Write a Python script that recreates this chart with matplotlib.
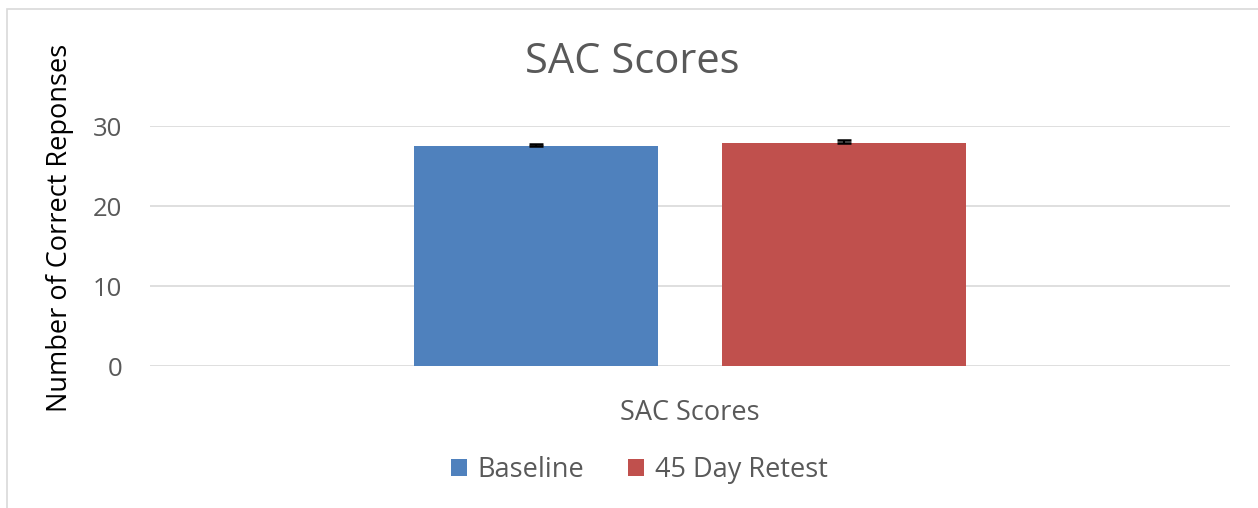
import matplotlib.pyplot as plt
import matplotlib.patches as mpatches
import numpy as np

# datos
categorias = ["SAC Scores"]
series = ["Baseline", "45 Day Retest"]
valores = [27.5, 27.9]
errores = [0.3, 0.3]
colores = ["#4f81bd", "#c0504d"]
yticks = [0, 10, 20, 30]

plt.rcParams['font.family'] = ['Open Sans', 'DejaVu Sans']
gris = "#595959"

fig = plt.figure(figsize=(12.58, 5.08), dpi=100)
# marco del gráfico
fig.patches.append(mpatches.Rectangle((7 / 1258, -0.1), 1.2, 1 - 9 / 508 + 0.1,
                                      transform=fig.transFigure, fill=False,
                                      edgecolor="#d9d9d9", linewidth=1.2))

ax = fig.add_axes([150 / 1258, 1 - 366 / 508, 1080 / 1258, 240 / 508])

ancho = 0.226
desp = [-0.143, 0.143]
for i in range(len(series)):
    ax.bar(0 + desp[i], valores[i], width=ancho, color=colores[i], label=series[i], zorder=2)
    ax.errorbar(0 + desp[i], valores[i], yerr=[[0], [errores[i]]], fmt='none',
                ecolor='black', elinewidth=1.5, capsize=4.8, capthick=1.8, zorder=3)

ax.set_xlim(-0.5, 0.5)
ax.set_ylim(0, 30)
ax.set_yticks(yticks)
ax.set_xticks([0])
ax.set_xticklabels(categorias)
ax.grid(axis='y', color="#d9d9d9", linewidth=1.2, zorder=0)
for s in ["top", "right", "left", "bottom"]:
    ax.spines[s].set_visible(False)
ax.tick_params(axis='y', length=0, labelsize=18.5, colors=gris, pad=20)
ax.tick_params(axis='x', length=0, labelsize=19.5, colors=gris, pad=24)
ax.set_ylabel("Number of Correct Reponses", fontsize=19.5, color="black",
              va='center')
ax.yaxis.set_label_coords(-0.083, 0.575)

fig.text(632 / 1258, 1 - 62 / 508, "SAC Scores", fontsize=30, color=gris,
         ha='center', va='center')

ax.legend(loc='center', bbox_to_anchor=(0.508, 1 - 470 / 508), bbox_transform=fig.transFigure,
          ncol=2, frameon=False, fontsize=19.5, labelcolor=gris, handlelength=0.6,
          handleheight=0.6, handletextpad=0.4, columnspacing=1.6)

plt.savefig("out.png", dpi=100)
